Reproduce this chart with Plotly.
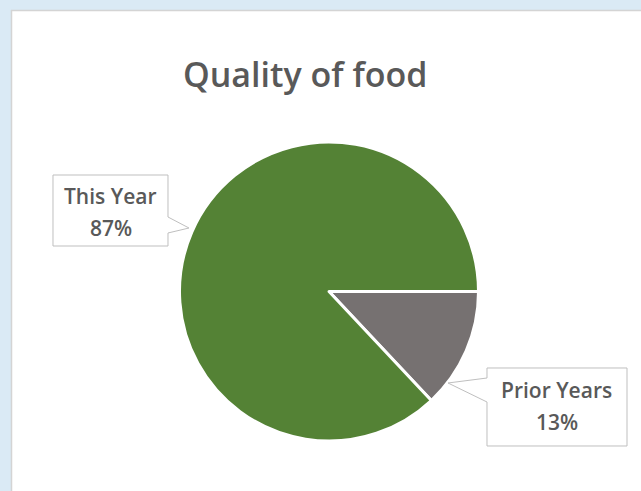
import plotly.graph_objects as go

labels = ["Prior Years", "This Year"]
values = [13, 87]
colors = ["#767171", "#548235"]
title_text = "Quality of food"

W, H = 641, 491


def px(x, y):
    return x / W, 1 - y / H


def path(points):
    s = ""
    for i, (x, y) in enumerate(points):
        X, Y = px(x, y)
        s += ("M" if i == 0 else "L") + f"{X:.5f},{Y:.5f} "
    return s + "Z"


fig = go.Figure()
x0, y1 = px(179, 142)
x1, y0 = px(479, 441)
fig.add_trace(go.Pie(
    labels=labels, values=values, sort=False, direction="clockwise",
    rotation=90, textinfo="none", hoverinfo="label+percent",
    marker=dict(colors=colors, line=dict(color="white", width=3)),
    domain=dict(x=[x0, x1], y=[y0, y1]), showlegend=False,
))

shapes = []
bg = "#daeaf5"
# outer light-blue frame
shapes.append(dict(type="rect", xref="paper", yref="paper", x0=0, x1=px(11, 0)[0], y0=0, y1=1,
                   fillcolor=bg, line=dict(width=0)))
shapes.append(dict(type="rect", xref="paper", yref="paper", x0=0, x1=1, y0=px(0, 10)[1], y1=1,
                   fillcolor=bg, line=dict(width=0)))
shapes.append(dict(type="line", xref="paper", yref="paper", x0=px(11.5, 0)[0], x1=px(11.5, 0)[0],
                   y0=0, y1=px(0, 10)[1], line=dict(color="#d4d4d4", width=1.5)))
shapes.append(dict(type="line", xref="paper", yref="paper", x0=px(11, 0)[0], x1=1,
                   y0=px(0, 10.5)[1], y1=px(0, 10.5)[1], line=dict(color="#d4d4d4", width=1.5)))

# callouts
c1 = [(53, 175), (168, 175), (168, 217), (189, 228), (168, 233), (168, 246), (53, 246)]
c2 = [(487, 368), (627, 368), (627, 446), (487, 446), (487, 402), (448, 383), (487, 378)]
for pts in (c1, c2):
    shapes.append(dict(type="path", xref="paper", yref="paper", path=path(pts),
                       fillcolor="white", line=dict(color="#bfbfbf", width=1)))

total = sum(values)
pct = [round(v / total * 100) for v in values]
lab_font = dict(family="Open Sans", size=21, color="#595959", weight=600)


def ann(text, x, y, font):
    X, Y = px(x, y)
    return dict(text=text, x=X, y=Y, xref="paper", yref="paper", showarrow=False,
                font=font, xanchor="center", yanchor="middle")


annotations = [
    ann(labels[1], 110.5, 196, lab_font),
    ann(f"{pct[1]}%", 110.5, 228, lab_font),
    ann(labels[0], 556.5, 390, lab_font),
    ann(f"{pct[0]}%", 556.5, 422, lab_font),
    ann(title_text, 305, 74, dict(family="Open Sans", size=34, color="#595959", weight=600)),
]

fig.update_layout(
    width=W, height=H, margin=dict(l=0, r=0, t=0, b=0),
    paper_bgcolor="white", plot_bgcolor="white",
    shapes=shapes, annotations=annotations,
)
fig.write_html("out.html")
